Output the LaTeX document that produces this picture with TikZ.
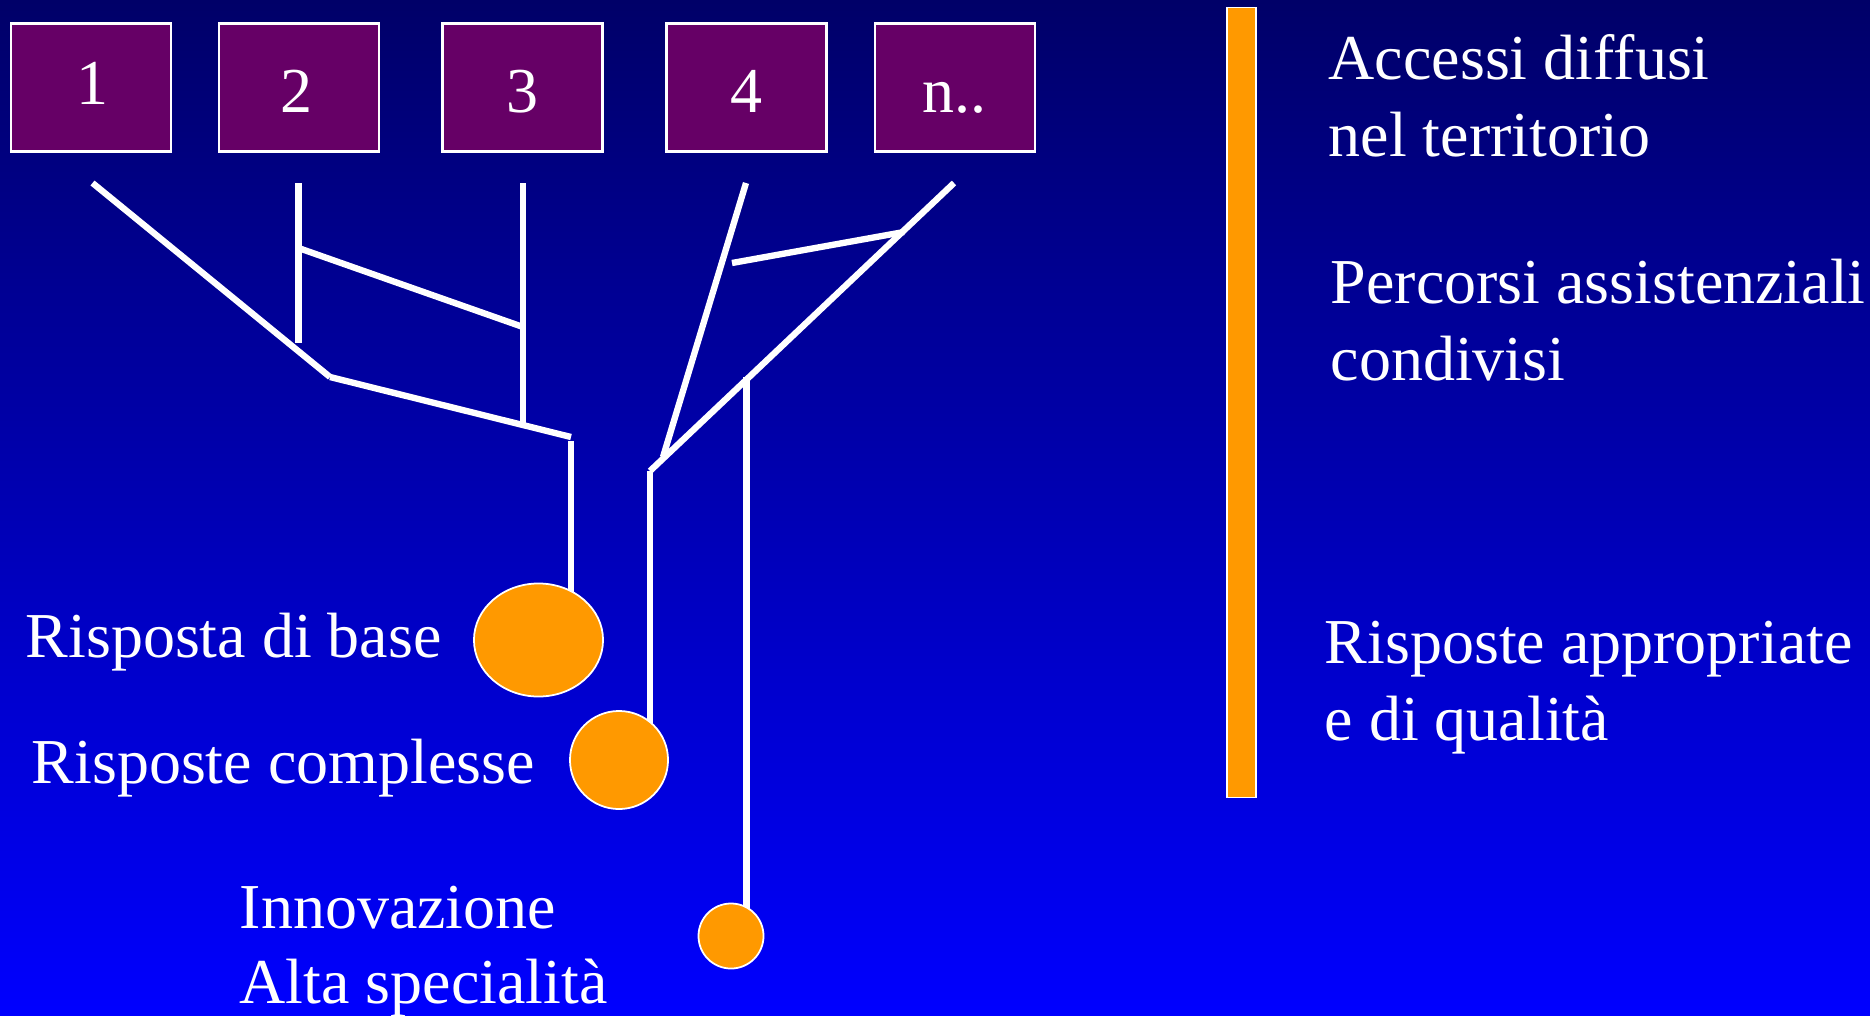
\documentclass[tikz,border=0pt]{standalone}
\usepackage{fontspec}
\setmainfont{Liberation Serif}
\usetikzlibrary{shapes.geometric,backgrounds}
\definecolor{bgtop}{RGB}{0,0,104}
\definecolor{bgmid}{RGB}{0,0,196}
\definecolor{bgbot}{RGB}{0,0,255}
\definecolor{boxpurple}{RGB}{102,0,102}
\definecolor{dotorange}{RGB}{255,153,0}
\begin{document}
\begin{tikzpicture}[x=0.01cm,y=-0.01cm,
  numbox/.style={draw=white, line width=0.7pt, fill=boxpurple, minimum width=1.6cm, minimum height=1.28cm, inner sep=0pt},
  lbl/.style={text=white, font=\fontsize{18.2pt}{22pt}\selectfont, inner sep=0pt, anchor=base west},
  numlbl/.style={lbl, anchor=base},
  branch/.style={draw=white, line width=1.8pt},
  dotnode/.style={draw=white, line width=0.5pt, fill=dotorange, inner sep=0pt}
]
\useasboundingbox (0,0) rectangle (1870,1015);

% boxes
\node[numbox] (b1) at (91,87.5) {};
\node[numbox] (b2) at (299,87.5) {};
\node[numbox] (b3) at (522.5,87.5) {};
\node[numbox] (b4) at (746.5,87.5) {};
\node[numbox] (b5) at (955,87.5) {};
\node[numlbl] (t1) at (93,104) {1};
\node[numlbl] (t2) at (296,112) {2};
\node[numlbl] (t3) at (522.5,112) {3};
\node[numlbl] (t4) at (746,112) {4};
\node[numlbl] (t5) at (954,112) {n..};

% dots
\node[dotnode, ellipse, minimum width=1.29cm, minimum height=1.13cm] (e1) at (538.5,640) {};
\node[dotnode, circle, minimum size=0.98cm] (e2) at (619,760) {};
\node[dotnode, circle, minimum size=0.65cm] (e3) at (731,936) {};

% orange bar
\node[draw=white, line width=0.4pt, fill=dotorange, minimum width=0.29cm, minimum height=7.89cm, inner sep=0pt] (bar) at (1241.5,402.5) {};

% junction coordinates
\coordinate (a1) at (92.5,183);
\coordinate (j1) at (330,377);
\coordinate (j2) at (571,437);
\coordinate (j2b) at (571,441);
\coordinate (a2) at (298.5,183);
\coordinate (a2b) at (298.5,343);
\coordinate (c2) at (298.5,248);
\coordinate (c3) at (523,327);
\coordinate (a3) at (523,183);
\coordinate (a3b) at (523,423);
\coordinate (a4) at (746,183);
\coordinate (j4) at (663,457);
\coordinate (a5) at (954,183);
\coordinate (j5) at (650,471);
\coordinate (c4) at (732,263);
\coordinate (c5) at (904,232);
\coordinate (v3) at (746.5,377);

\begin{pgfonlayer}{background}
\shade[top color=bgtop, middle color=bgmid, bottom color=bgbot] (0,0) rectangle (1870,1015);
\draw[branch] (a1) -- (j1);
\draw[branch] (j1) -- (j2);
\draw[branch] (j2b) -- (j2b |- e1.center);
\draw[branch] (a2) -- (a2b);
\draw[branch] (c2) -- (c3);
\draw[branch] (a3) -- (a3b);
\draw[branch] (a4) -- (j4);
\draw[branch] (a5) -- (j5);
\draw[branch] (c4) -- (c5);
\draw[branch] (j5) -- (j5 |- e2.center);
\draw[branch] (v3) -- (v3 |- e3.center);
\end{pgfonlayer}

% right texts
\node[lbl] (r1) at (1328,79) {Accessi diffusi};
\node[lbl] (r2) at (1328,156) {nel territorio};
\node[lbl] (r3) at (1330,303.6) {Percorsi assistenziali};
\node[lbl] (r4) at (1330,380) {condivisi};
\node[lbl] (r5) at (1324,663) {Risposte appropriate};
\node[lbl] (r6) at (1324,740) {e di qualità};

% left texts
\node[lbl] (l1) at (25,657) {Risposta di base};
\node[lbl] (l2) at (31,783) {Risposte complesse};
\node[lbl] (l3) at (239,928) {Innovazione};
\node[lbl] (l4) at (239,1003) {Alta specialità};
\end{tikzpicture}
\end{document}
